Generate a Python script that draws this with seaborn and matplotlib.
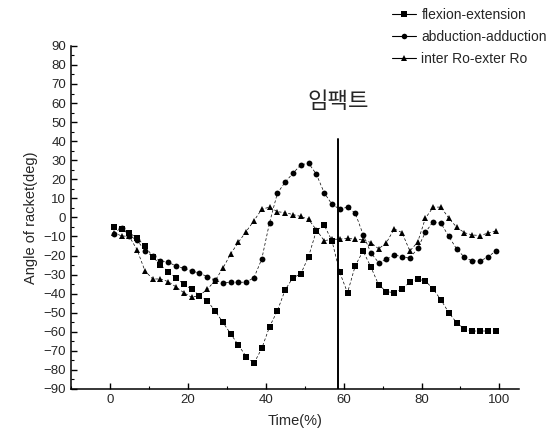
import numpy as np
import pandas as pd
import matplotlib
matplotlib.use("Agg")
import matplotlib.pyplot as plt
from matplotlib.lines import Line2D
from matplotlib.ticker import MultipleLocator
import seaborn as sns

time = [1, 3, 5, 7, 9, 11, 13, 15, 17, 19, 21, 23, 25, 27, 29, 31, 33, 35, 37, 39,
        41, 43, 45, 47, 49, 51, 53, 55, 57, 59, 61, 63, 65, 67, 69, 71, 73, 75, 77, 79,
        81, 83, 85, 87, 89, 91, 93, 95, 97, 99]

flexion_extension = [-5, -6, -8, -11, -14.8, -20.6, -25, -28.4, -31.8, -35,
                     -37.7, -41, -43.8, -49, -55, -61, -67, -73, -76.5, -68.7,
                     -57.3, -49, -38, -31.6, -29.7, -20.6, -7, -4, -12.2, -28.8,
                     -39.5, -25.3, -17.6, -26, -35.4, -38.9, -39.5, -37.5, -34, -32.4,
                     -33.3, -37.7, -43.3, -50, -55.2, -58.5, -59.6, -59.6, -59.6, -59.6]

abduction_adduction = [-8.5, -5.3, -9.5, -12, -17.4, -20.5, -22.7, -23.5, -25.5, -26.7,
                       -28, -29.3, -31, -33, -34.4, -34, -34, -34, -31.6, -21.8,
                       -2.7, 12.7, 18.5, 23.2, 27.5, 28.5, 22.7, 13, 6.9, 4.3,
                       5.4, 2.2, -9, -18.5, -23.8, -22, -19.7, -20.6, -21.4, -16.2,
                       -7.8, -2.2, -3.1, -10, -16.5, -20.9, -22.8, -22.8, -20.9, -17.6]

inter_exter_ro = [-8, -9.7, -10, -17, -28, -32.3, -32.3, -33.7, -36.5, -39.5,
                  -41.9, -41, -37.7, -33.2, -26.7, -19.2, -13, -7.4, -1.7, 4.3,
                  5.4, 3, 2.5, 1.5, 0.5, -1, -6.5, -12.2, -11.5, -11.4,
                  -11, -11.4, -11.7, -13.2, -16.5, -13.2, -6, -8, -17.6, -13,
                  -0.4, 5.4, 5.4, -0.4, -5.1, -8, -9.2, -9.5, -8.3, -7.1]

series_names = ["flexion-extension", "abduction-adduction", "inter Ro-exter Ro"]
impact_time = 58.5
impact_label = "임팩트"

df = pd.concat([
    pd.DataFrame({"Time": time, "Angle": flexion_extension, "motion": series_names[0]}),
    pd.DataFrame({"Time": time, "Angle": abduction_adduction, "motion": series_names[1]}),
    pd.DataFrame({"Time": time, "Angle": inter_exter_ro, "motion": series_names[2]}),
])

sns.set_theme(style="ticks")
plt.rcParams["font.family"] = ["Liberation Sans", "Noto Sans CJK KR", "DejaVu Sans"]

fig = plt.figure(figsize=(5.58, 4.41), dpi=100)
ax = fig.add_axes([0.127, 0.118, 0.803, 0.778])

markers = {series_names[0]: "s", series_names[1]: "o", series_names[2]: "^"}
dashes = {n: (4, 3) for n in series_names}
palette = {n: "black" for n in series_names}
sns.lineplot(data=df, x="Time", y="Angle", hue="motion", style="motion",
             markers=markers, dashes=dashes, palette=palette,
             markersize=4.2, markeredgewidth=0, linewidth=0.5,
             errorbar=None, ax=ax, legend=False)

ax.plot([impact_time, impact_time], [-90, 41], color="black", lw=1.4)
ax.text(impact_time, 61, impact_label, ha="center", va="center", fontsize=16,
        family=["Noto Sans CJK KR", "DejaVu Sans"])

ax.set_xlim(-10, 105)
ax.set_ylim(-90, 90)
ax.xaxis.set_major_locator(MultipleLocator(20))
ax.xaxis.set_minor_locator(MultipleLocator(10))
ax.yaxis.set_major_locator(MultipleLocator(10))
ax.yaxis.set_minor_locator(MultipleLocator(5))
ax.tick_params(which="both", direction="in", color="black")
ax.tick_params(which="major", length=4, width=1, labelsize=9.5)
ax.tick_params(which="minor", length=2.5, width=0.8)
for s in ["top", "right"]:
    ax.spines[s].set_visible(False)
for s in ["left", "bottom"]:
    ax.spines[s].set_color("black")
    ax.spines[s].set_linewidth(1.1)
ax.set_xlabel("Time(%)", fontsize=10.5, labelpad=6)
ax.set_ylabel("Angle of racket(deg)", fontsize=10.5, labelpad=4)

handles = [Line2D([], [], color="black", lw=0.8, marker=markers[n], markersize=4,
                  markeredgewidth=0) for n in series_names]
fig.legend(handles, series_names, loc="upper right", bbox_to_anchor=(0.995, 1.0),
           frameon=False, fontsize=10, handlelength=1.7, handletextpad=0.4,
           labelspacing=0.55, borderaxespad=0.2)

fig.savefig("out.png", dpi=100)
